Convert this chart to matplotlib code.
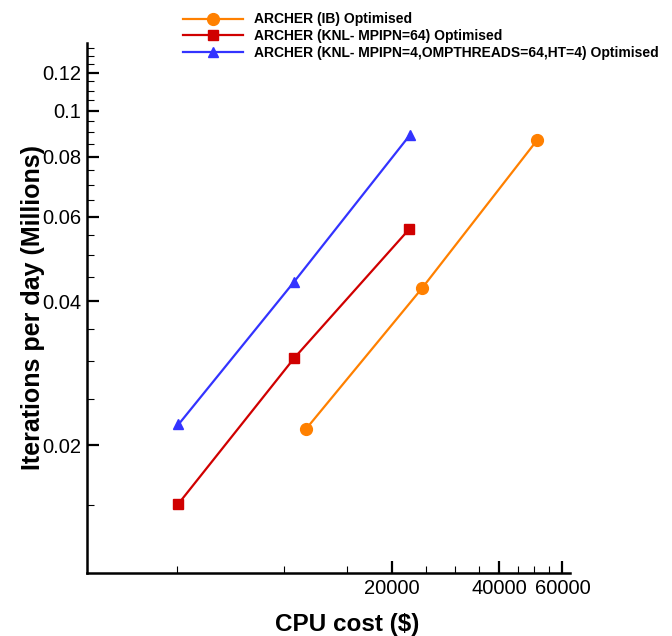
import matplotlib
matplotlib.use("Agg")
import matplotlib.pyplot as plt
from matplotlib.ticker import FixedLocator, NullFormatter

plt.rcParams['font.family'] = ['Liberation Sans', 'DejaVu Sans']

# data (log-log)
ib_cost = [11490, 24260, 50900]
ib_iters = [0.0216, 0.0425, 0.0866]
knl64_cost = [5060, 10660, 22400]
knl64_iters = [0.0151, 0.0304, 0.0566]
knl4_cost = [5060, 10660, 22500]
knl4_iters = [0.0221, 0.0439, 0.0890]

labels = ['ARCHER (IB) Optimised',
          'ARCHER (KNL- MPIPN=64) Optimised',
          'ARCHER (KNL- MPIPN=4,OMPTHREADS=64,HT=4) Optimised']

x_major = [20000, 40000, 60000]
x_minor = [5000, 10000, 15000, 25000, 30000, 35000, 45000, 50000, 55000]
y_major = [0.02, 0.04, 0.06, 0.08, 0.1, 0.12]
y_minor = [0.015, 0.025, 0.03, 0.035, 0.045, 0.05, 0.055, 0.065, 0.07, 0.075,
           0.085, 0.09, 0.095, 0.105, 0.11, 0.115, 0.125, 0.13, 0.135]

fig = plt.figure(figsize=(6.72, 6.36), dpi=100)
ax = fig.add_axes([0.1295, 0.099, 0.719, 0.834])

ax.plot(ib_cost, ib_iters, color='#ff8000', lw=1.6, marker='o', ms=8.5,
        label=labels[0])
ax.plot(knl64_cost, knl64_iters, color='#d00000', lw=1.6, marker='s', ms=6.5,
        label=labels[1])
ax.plot(knl4_cost, knl4_iters, color='#3333ff', lw=1.6, marker='^', ms=6.5,
        label=labels[2])

ax.set_xscale('log')
ax.set_yscale('log')
ax.set_xlim(2808, 63080)
ax.set_ylim(0.01082, 0.1386)

ax.xaxis.set_major_locator(FixedLocator(x_major))
ax.xaxis.set_minor_locator(FixedLocator(x_minor))
ax.yaxis.set_major_locator(FixedLocator(y_major))
ax.yaxis.set_minor_locator(FixedLocator(y_minor))
ax.set_xticklabels([f'{v:g}' for v in x_major])
ax.set_yticklabels([f'{v:g}' for v in y_major])
ax.xaxis.set_minor_formatter(NullFormatter())
ax.yaxis.set_minor_formatter(NullFormatter())

for s in ['top', 'right']:
    ax.spines[s].set_visible(False)
for s in ['left', 'bottom']:
    ax.spines[s].set_linewidth(1.8)

ax.tick_params(which='major', direction='in', length=8.5, width=1.6,
               labelsize=14.5, pad=4)
ax.tick_params(which='minor', direction='in', length=5, width=0.8)

ax.set_xlabel('CPU cost ($)', fontsize=17.5, fontweight='bold')
ax.set_ylabel('Iterations per day (Millions)', fontsize=18, fontweight='bold')
ax.xaxis.set_label_coords(0.538, -0.0755)
ax.yaxis.set_label_coords(-0.088, 0.5)

fig.legend(loc='upper left', bbox_to_anchor=(0.254, 1.0), frameon=False,
           prop={'size': 10, 'weight': 'bold'}, handlelength=4.3,
           labelspacing=0.18, handletextpad=0.8)

fig.savefig('out.png', dpi=100)
